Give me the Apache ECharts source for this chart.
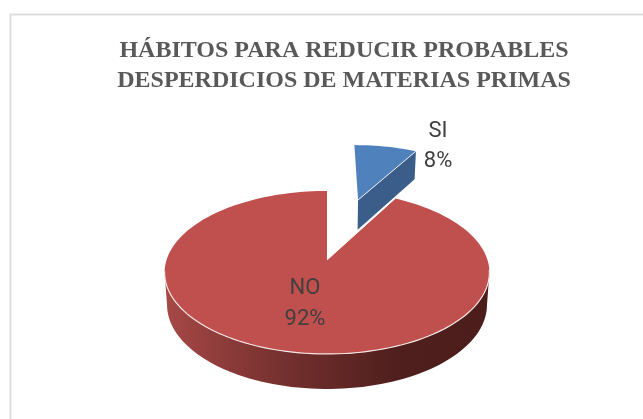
<!DOCTYPE html>
<html>
<head>
<meta charset="utf-8">
<style>html,body{margin:0;padding:0;background:#fff}#main{width:643px;height:419px}</style>
<script src="https://cdn.jsdelivr.net/npm/echarts@6/dist/echarts.min.js"></script>
</head>
<body>
<div id="main"></div>
<script>
const titleLines = ['HÁBITOS PARA REDUCIR PROBABLES', 'DESPERDICIOS DE MATERIAS PRIMAS'];
const categories = ['SI', 'NO'];
const shares = [8, 92];
const explode = [0.88, 0];
const topColors = ['#4F81BD', '#C0504D'];
const labelAnchors = [[438, 146.5], [305, 304]];

// Perspective camera for the tilted disc: unit-circle plane to screen pixels.
const camera = { x0: 327, y0: 260, a: 160.5, b: 79.6, k: -0.153 };
const total = shares.reduce((s, v) => s + v, 0);

function project(u, v) {
  const d = 1 + camera.k * v;
  return [camera.x0 + camera.a * u / d, camera.y0 + camera.b * v / d];
}
// Thickness grows slowly towards the viewer; the lower face is slightly narrower.
function drop(p) {
  const depth = 28 + (p[1] - 151) * 7 / 203;
  return [camera.x0 + (p[0] - camera.x0) * 0.985, p[1] + depth];
}
function deg(a) { return a * Math.PI / 180; }

function renderSlice(params, api) {
  const i = params.dataIndex;
  const start = shares.slice(0, i).reduce((s, v) => s + v, 0) / total * 360;
  const sweep = api.value(0) / total * 360;
  const mid = deg(start + sweep / 2);
  const ox = Math.sin(mid) * explode[i];
  const oy = -Math.cos(mid) * explode[i];
  const rim = t => project(ox + Math.sin(deg(t)), oy - Math.cos(deg(t)));
  const arc = (from, to) => {
    const pts = [];
    const n = Math.max(2, Math.ceil(Math.abs(to - from) / 2));
    for (let j = 0; j <= n; j++) pts.push(rim(from + (to - from) * j / n));
    return pts;
  };
  const centre = project(ox, oy);
  const top = [centre].concat(arc(start, start + sweep));
  const children = [];

  if (i === 0) {
    // Only the cut face looking at the viewer shows on the small slice.
    const a = centre, b = rim(start + sweep);
    children.push({
      type: 'polygon',
      shape: { points: [a, b, drop(b), drop(a)] },
      style: { fill: '#3A5D89' }
    });
    children.push({
      type: 'polygon', shape: { points: top },
      style: { fill: topColors[i] }
    });
    children.push({
      type: 'polyline', shape: { points: [a, b] },
      style: { stroke: '#E8EEF6', lineWidth: 1, fill: 'none' }
    });
  } else {
    const front = arc(99, 261);
    children.push({
      type: 'polygon',
      shape: { points: front.concat(front.slice().reverse().map(drop)) },
      style: {
        fill: {
          type: 'linear', x: 0, y: 0, x2: 1, y2: 0,
          colorStops: [
            { offset: 0, color: '#A64947' },
            { offset: 0.15, color: '#913E3C' },
            { offset: 0.42, color: '#6E2D2B' },
            { offset: 0.72, color: '#4F1F1D' },
            { offset: 1, color: '#4B1D1B' }
          ]
        }
      }
    });
    children.push({
      type: 'polygon', shape: { points: top },
      style: { fill: topColors[i] }
    });
    children.push({
      type: 'polyline', shape: { points: arc(97, 262) },
      style: { stroke: '#F4E6E5', lineWidth: 1.2, fill: 'none' }
    });
    children.push({
      type: 'polyline', shape: { points: [centre, rim(start)] },
      style: { stroke: '#FFFFFF', lineWidth: 1, fill: 'none' }
    });
  }

  children.push({
    type: 'text', z2: 10,
    style: {
      text: categories[i] + '\n' + Math.round(api.value(0) / total * 100) + '%',
      x: labelAnchors[i][0], y: labelAnchors[i][1],
      align: 'center', verticalAlign: 'middle',
      font: '22px Roboto', lineHeight: 30.5, fill: '#404040'
    }
  });
  return { type: 'group', children };
}

const chart = echarts.init(document.getElementById('main'), null, { renderer: 'canvas' });
chart.setOption({
  animation: false,
  backgroundColor: '#FFFFFF',
  title: {
    text: titleLines.join('\n'),
    left: 339, top: 31, textAlign: 'center',
    textStyle: {
      fontFamily: 'Liberation Serif', fontWeight: 'bold',
      fontSize: 24, lineHeight: 30, color: '#595959'
    }
  },
  graphic: [{
    type: 'polyline', silent: true,
    shape: { points: [[10.5, 419], [10.5, 14.5], [643, 14.5]] },
    style: { stroke: '#DEDEDE', lineWidth: 2, fill: 'none' }
  }],
  series: [{
    type: 'custom',
    coordinateSystem: 'none',
    silent: true,
    data: shares.map(v => [v]),
    renderItem: renderSlice
  }]
});
</script>
</body>
</html>
